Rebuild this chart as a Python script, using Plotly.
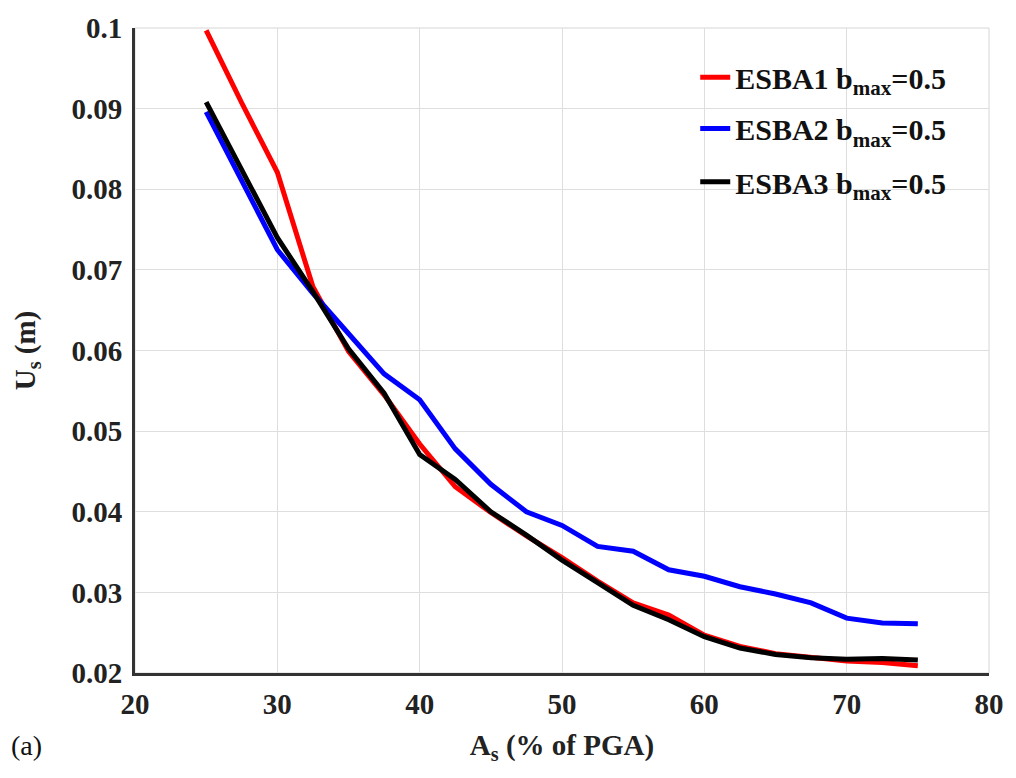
import plotly.graph_objects as go

x_vals = [25, 27.5, 30, 32.5, 35, 37.5, 40, 42.5, 45, 47.5, 50, 52.5, 55, 57.5, 60, 62.5, 65, 67.5, 70, 72.5, 75]
esba1 = [0.0997, 0.0907, 0.0821, 0.0679, 0.0599, 0.0545, 0.0484, 0.0431, 0.0399, 0.0370, 0.0343, 0.0314, 0.0287, 0.0272, 0.0247, 0.0233, 0.0224, 0.0219, 0.0215, 0.0213, 0.0209]
esba2 = [0.0896, 0.0811, 0.0725, 0.0671, 0.0620, 0.0571, 0.0539, 0.0478, 0.0434, 0.0400, 0.0383, 0.0357, 0.0351, 0.0328, 0.0320, 0.0307, 0.0298, 0.0287, 0.0268, 0.0262, 0.0261]
esba3 = [0.0908, 0.0823, 0.0740, 0.0673, 0.0602, 0.0547, 0.0471, 0.0440, 0.0400, 0.0371, 0.0340, 0.0312, 0.0284, 0.0266, 0.0245, 0.0231, 0.0223, 0.0219, 0.0217, 0.0218, 0.0216]
series_names = ["ESBA1 b<sub>max</sub>=0.5", "ESBA2 b<sub>max</sub>=0.5", "ESBA3 b<sub>max</sub>=0.5"]
series_colors = ["#ff0000", "#0000ff", "#000000"]
legend_ids = ["legend", "legend2", "legend3"]
legend_y = [0.9235, 0.844, 0.7615]

FONT = "'Liberation Serif', 'Times New Roman', Times, serif"

fig = go.Figure()
for name, ys, col, lid in zip(series_names, [esba1, esba2, esba3], series_colors, legend_ids):
    fig.add_trace(go.Scatter(x=x_vals, y=ys, mode="lines", name=name, legend=lid,
                             line=dict(color=col, width=5)))

legend_style = dict(xanchor="left", yanchor="middle", x=0.656,
                    bgcolor="rgba(0,0,0,0)", borderwidth=0,
                    font=dict(family=FONT, size=30, weight="bold", color="#111"))

fig.update_layout(
    width=1016, height=778,
    margin=dict(l=135, r=24, t=19, b=105),
    plot_bgcolor="white", paper_bgcolor="white",
    font=dict(family=FONT, color="#222"),
    showlegend=True,
    legend=dict(y=legend_y[0], **legend_style),
    legend2=dict(y=legend_y[1], **legend_style),
    legend3=dict(y=legend_y[2], **legend_style),
    shapes=[dict(type="rect", xref="paper", yref="paper", x0=0, x1=1, y0=0, y1=1,
                 line=dict(color="#d6d6d6", width=1), layer="below")],
    annotations=[dict(text="(a)", xref="paper", yref="paper", x=-0.148, y=-0.085,
                      xanchor="left", yanchor="top", showarrow=False,
                      font=dict(family=FONT, size=28, color="#111"))],
)

fig.update_xaxes(range=[20, 80], dtick=10, tick0=20,
                 showgrid=True, gridcolor="#dedede", gridwidth=1,
                 showline=True, linecolor="#333", linewidth=3, zeroline=False,
                 ticks="", ticklabelstandoff=3,
                 tickfont=dict(family=FONT, size=29, weight="bold", color="#222"),
                 title=dict(text="A<sub>s</sub> (% of PGA)", standoff=16,
                            font=dict(family=FONT, size=29, weight="bold", color="#222")))
fig.update_yaxes(range=[0.02, 0.1], dtick=0.01, tick0=0.02,
                 showgrid=True, gridcolor="#dedede", gridwidth=1,
                 showline=True, linecolor="#333", linewidth=3, zeroline=False,
                 ticks="", ticklabelstandoff=4,
                 tickfont=dict(family=FONT, size=29, weight="bold", color="#222"),
                 title=dict(text="U<sub>s</sub> (m)", standoff=28,
                            font=dict(family=FONT, size=29, weight="bold", color="#222")))

fig.write_html("out.html")
